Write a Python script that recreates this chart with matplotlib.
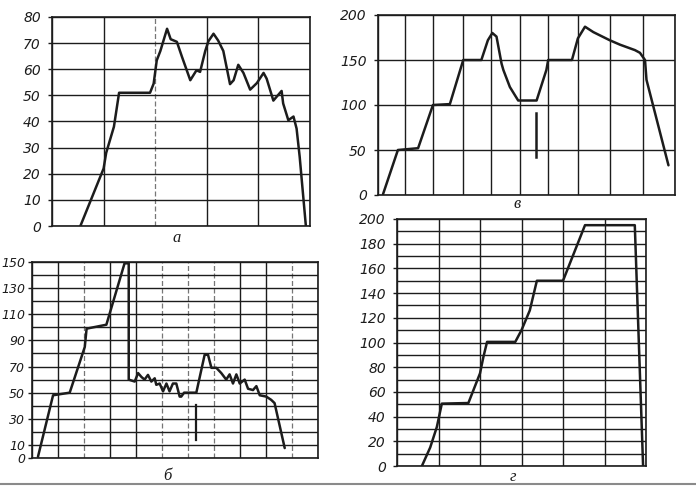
import matplotlib.pyplot as plt
from matplotlib.lines import Line2D

# panel a
a_x = [0.55, 1.0, 1.05, 1.2, 1.3, 1.9, 1.97, 2.03, 2.1, 2.23, 2.3, 2.42, 2.52, 2.68,
       2.8, 2.87, 2.97, 3.03, 3.13, 3.22, 3.32, 3.45, 3.52, 3.61, 3.71, 3.84, 3.97,
       4.1, 4.16, 4.29, 4.35, 4.45, 4.48, 4.58, 4.68, 4.74, 4.8, 4.92]
a_y = [0, 22, 28, 38, 51, 51, 54.5, 63.4, 67, 75.5, 71.5, 70.5, 64.7, 55.8,
       59.6, 59, 67, 70.7, 73.6, 71, 67, 54.3, 55.8, 61.7, 58.6, 52.2, 54.7,
       58.6, 56.4, 48, 49.4, 51.7, 46.9, 40.5, 41.9, 37.3, 26.5, 0]
a_xgrid = [0, 1, 2, 3, 4, 5]
a_yticks = [0, 10, 20, 30, 40, 50, 60, 70, 80]

# panel в
v_x = [0.17, 0.67, 1.35, 1.85, 2.42, 2.87, 3.48, 3.7, 3.85, 3.99, 4.16, 4.22, 4.44,
       4.72, 5.34, 5.67, 5.73, 6.53, 6.73, 6.97, 7.25, 7.8, 8.15, 8.65, 8.82, 8.99,
       9.04, 9.78]
v_y = [1, 50, 52, 100, 101, 150, 150, 172, 180, 176, 146, 139, 120,
       105, 105, 139, 150, 150, 174, 187, 181, 172, 167, 161, 158, 150,
       128, 33]
v_mark_x = [5.31, 5.31]
v_mark_y = [90.7, 42.6]
v_xgrid = [0, 0.9, 1.85, 2.87, 3.82, 4.78, 5.73, 6.74, 7.81, 8.93, 10]
v_yticks = [0, 50, 100, 150, 200]

# panel б
b_x = [0.23, 0.81, 1.45, 2.03, 2.1, 2.86, 3.56, 3.72, 3.72, 3.95, 4.08, 4.21, 4.33,
       4.46, 4.59, 4.72, 4.78, 4.91, 5.04, 5.17, 5.29, 5.42, 5.55, 5.68, 5.74, 5.85,
       6.32, 6.64, 6.77, 6.9, 7.09, 7.28, 7.47, 7.6, 7.73, 7.86, 7.99, 8.18, 8.31,
       8.5, 8.63, 8.76, 9.01, 9.2, 9.33, 9.72]
b_y = [1, 48, 50, 85, 99, 102, 149, 149, 60, 58.5, 65, 62, 60,
       63.6, 58.5, 61, 56, 57, 51, 57, 51, 57, 57, 47, 47, 50,
       50, 79, 79, 69, 69, 65, 60, 64, 57, 64, 57, 60, 53,
       52, 55, 48, 47, 44.5, 42, 7.6]
b_mark_x = [6.32, 6.32]
b_mark_y = [40.7, 14]
b_xgrid = [0, 1, 2, 3, 4, 5, 6, 7, 8, 9, 10, 11]
b_yticks = [0, 10, 30, 50, 70, 90, 110, 130, 150]

# panel г
g_x = [0.6, 0.8, 0.96, 1.08, 1.72, 2.0, 2.08, 2.17, 2.85, 3.0, 3.2, 3.37, 4.0,
       4.53, 5.73, 5.93]
g_y = [0, 15, 31.6, 50.5, 51, 75, 88, 100.5, 100.5, 110, 126, 150, 150,
       195, 195, 0]
g_xgrid = [0, 1, 2, 3, 4, 5, 6]
g_yticks = [0, 20, 40, 60, 80, 100, 120, 140, 160, 180, 200]

INK = '#1c1c1c'


def draw_panel(ax, x, y, xgrid, yticks, ystep, light_cols=(), pad=5, fsize=10):
    ymax = yticks[-1]
    # grid drawn by hand so the steps can differ from the labels
    for i, gx in enumerate(xgrid):
        if i in light_cols:
            ax.axvline(gx, color='#777777', lw=0.9, ls=(0, (4, 2)), zorder=1)
        else:
            ax.axvline(gx, color=INK, lw=1.0, zorder=1)
    v = 0
    while v <= ymax:
        ax.axhline(v, color=INK, lw=1.0, zorder=1)
        v += ystep

    ax.plot(x, y, color=INK, lw=1.8, solid_joinstyle='round',
            solid_capstyle='round', zorder=3)

    ax.set_xlim(xgrid[0], xgrid[-1])
    ax.set_ylim(0, ymax)
    ax.set_xticks([])
    ax.set_yticks(yticks)
    ax.set_yticklabels([str(t) for t in yticks],
                       fontdict=dict(family='DejaVu Sans', style='italic', size=fsize))
    ax.tick_params(axis='y', length=3, width=1, color=INK, pad=pad, labelcolor=INK)
    for s in ax.spines.values():
        s.set_color(INK)
        s.set_linewidth(1.2)


fig = plt.figure(figsize=(6.96, 4.86), dpi=100)
W, H = 696, 486

ax_a = fig.add_axes([52 / W, 1 - 226 / H, 258 / W, 209 / H])
ax_v = fig.add_axes([378 / W, 1 - 195 / H, 297 / W, 180 / H])
ax_b = fig.add_axes([32 / W, 1 - 458 / H, 286 / W, 196 / H])
ax_g = fig.add_axes([397 / W, 1 - 466 / H, 249 / W, 247 / H])

draw_panel(ax_a, a_x, a_y, a_xgrid, a_yticks, 10, light_cols=(2,))
draw_panel(ax_v, v_x, v_y, v_xgrid, v_yticks, 50)
ax_v.plot(v_mark_x, v_mark_y, color=INK, lw=1.8, zorder=3)
draw_panel(ax_b, b_x, b_y, b_xgrid, b_yticks, 10, light_cols=(2, 5, 6, 7, 10),
           pad=2, fsize=9)
ax_b.plot(b_mark_x, b_mark_y, color=INK, lw=1.6, zorder=3)
draw_panel(ax_g, g_x, g_y, g_xgrid, g_yticks, 10)

# panel letters
letter_font = dict(family='Liberation Serif', style='italic', size=12, color=INK)
fig.text(177 / W, 1 - 238 / H, 'а', ha='center', va='center', **letter_font)
fig.text(517 / W, 1 - 204 / H, 'в', ha='center', va='center', **letter_font)
fig.text(167 / W, 1 - 476 / H, 'б', ha='center', va='center', **letter_font)
fig.text(513 / W, 1 - 477 / H, 'г', ha='center', va='center', **letter_font)

# grey rule along the bottom of the scan
fig.add_artist(Line2D([0, 1], [1 - 484 / H, 1 - 484 / H], color='#8a8a8a', lw=1.5))

fig.savefig('out.png', dpi=100)
